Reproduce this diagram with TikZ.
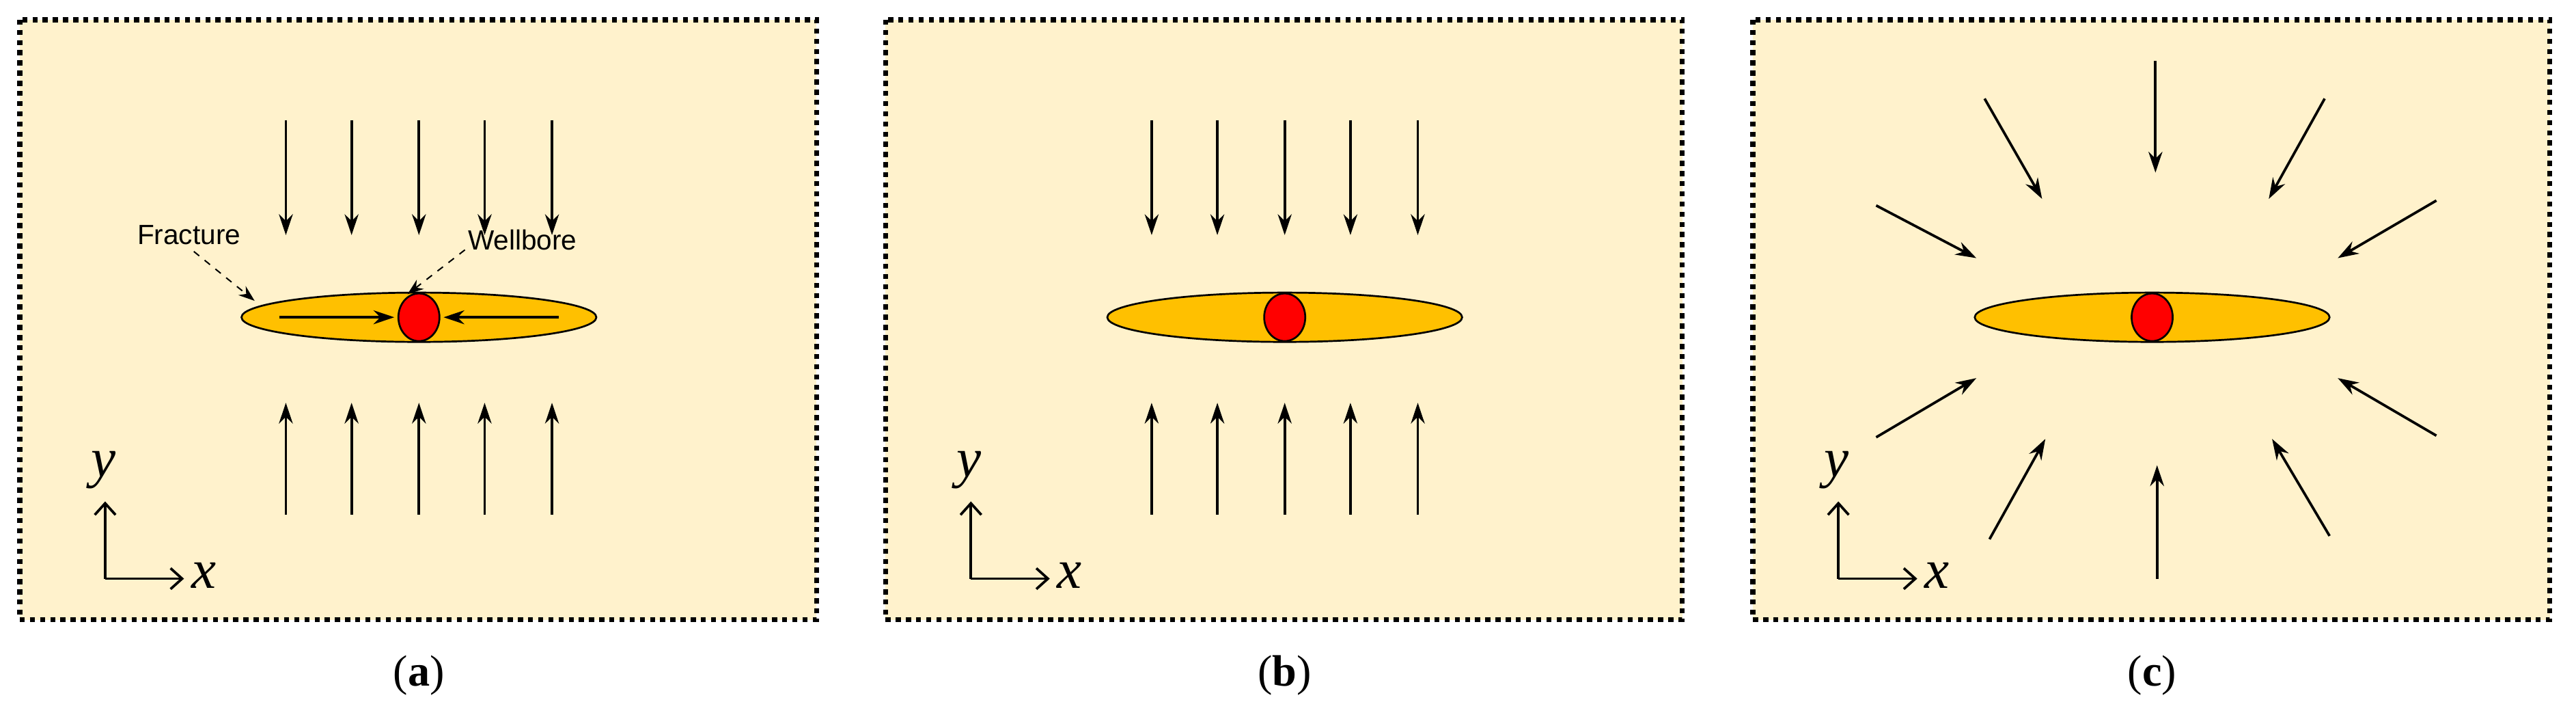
\documentclass[tikz,border=0pt]{standalone}
\usepackage{fontspec}
\setmainfont{Liberation Serif}
\newfontfamily\sansf{Liberation Sans}
\usetikzlibrary{arrows.meta,shapes.geometric}
\definecolor{bg}{HTML}{FFF2CC}
\definecolor{frac}{HTML}{FFC000}
\begin{document}
\begin{tikzpicture}[x=0.025cm,y=-0.025cm,
  box/.style={fill=bg,draw=black,line width=2.2pt,dash pattern=on 2.2pt off 2.2pt},
  arr/.style={line width=1.1pt,-{Stealth[length=9pt,width=6pt]}},
  lab/.style={font=\sansf\fontsize{12}{14}\selectfont},
  captext/.style={font=\fontsize{19}{22}\selectfont}]
\useasboundingbox (0,0) rectangle (1568,442.8);
\newcommand\mypanel[2]{%
 \begin{scope}[shift={(#1,0)}]
  \draw[box] (12,12) rectangle (497,377);
  \node[ellipse,draw=black,fill=frac,line width=0.8pt,minimum width=216*0.025cm,minimum height=30*0.025cm,inner sep=0pt] (f#2) at (255,193) {};
  \node[ellipse,draw=black,fill=red,line width=0.8pt,minimum width=25*0.025cm,minimum height=29*0.025cm,inner sep=0pt] (w#2) at (255,193) {};
  \coordinate (o#2) at (64,352);
  \coordinate (ya#2) at (64,305);
  \coordinate (xa#2) at (112,352);
  \draw[line width=1.1pt,-{Straight Barb[length=5pt,width=9pt]}] (o#2) -- (ya#2);
  \draw[line width=1.1pt,-{Straight Barb[length=5pt,width=9pt]}] (o#2) -- (xa#2);
  \node[font=\itshape\fontsize{24}{26}\selectfont] (yl#2) at (63,286) {y};
  \node[font=\itshape\fontsize{24}{26}\selectfont] (xl#2) at (124,350) {x};
  \node[captext] (c#2) at (255,411) {(\textbf{#2})};
 \end{scope}}
\mypanel{0}{a}
\mypanel{527}{b}
\mypanel{1055}{c}
\foreach \off in {0,527}{
 \foreach \x in {174,214,255,295,336}{
  \draw[arr] (\off+\x,73) -- (\off+\x,143);
  \draw[arr] (\off+\x,313) -- (\off+\x,245);
 }}
\coordinate (ia1) at (170,193); \coordinate (ia2) at (240,193);
\coordinate (ib1) at (340,193); \coordinate (ib2) at (270,193);
\draw[arr] (ia1) -- (ia2);
\draw[arr] (ib1) -- (ib2);
\node[lab] (fl) at (115,143) {Fracture};
\node[lab] (wl) at (318,146) {Wellbore};
\draw[dashed,line width=0.6pt,-{Stealth[length=7pt,width=5pt]}] (118,153) -- (155,183);
\draw[dashed,line width=0.6pt,-{Stealth[length=7pt,width=5pt]}] (283,152) -- (248,179);
\draw[arr] (1312,37) -- (1312,105);
\draw[arr] (1313,352) -- (1313,283);
\draw[arr] (1208,60) -- (1243,121);
\draw[arr] (1415,60) -- (1381,121);
\draw[arr] (1142,125) -- (1203,157);
\draw[arr] (1483,122) -- (1423,157);
\draw[arr] (1142,266) -- (1203,230);
\draw[arr] (1483,265) -- (1423,230);
\draw[arr] (1211,328) -- (1245,267);
\draw[arr] (1418,326) -- (1383,267);
\end{tikzpicture}
\end{document}
